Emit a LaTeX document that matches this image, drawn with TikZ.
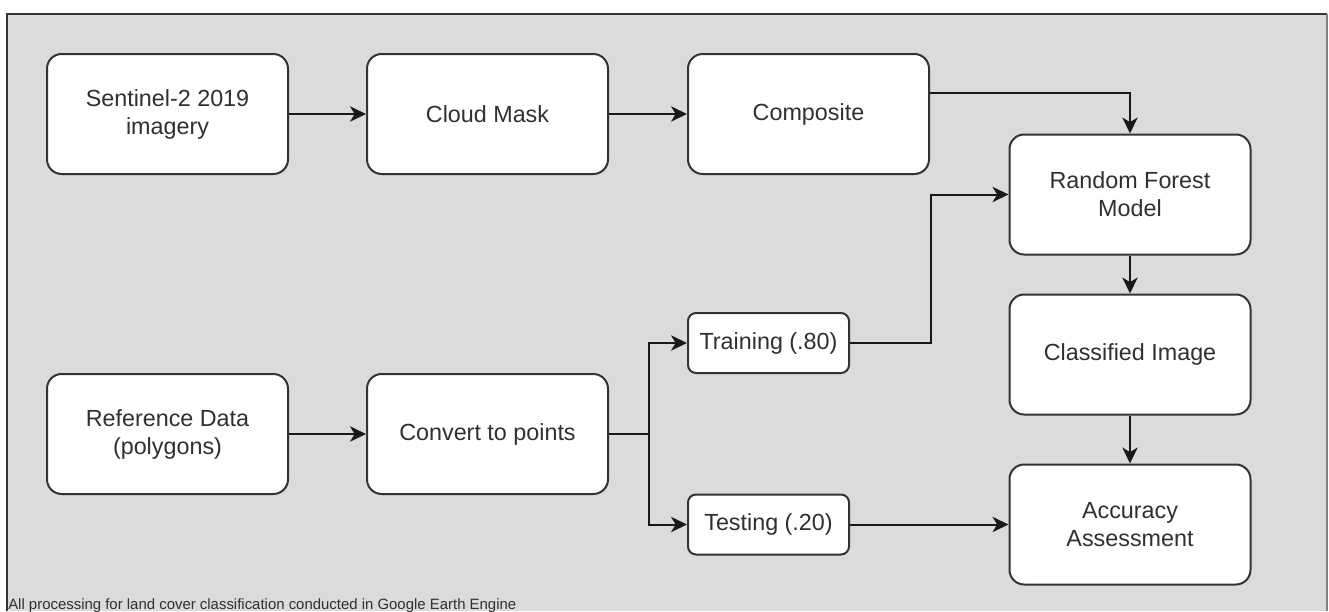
\documentclass[tikz,border=0pt]{standalone}
\usepackage{fontspec}
\setmainfont{Liberation Sans}
\usetikzlibrary{%
  arrows.meta,%
  positioning}

\definecolor{panelgray}{HTML}{DBDBDB}
\definecolor{edgegray}{HTML}{333333}
\definecolor{textgray}{HTML}{303030}

\begin{document}
\begin{tikzpicture}[x=0.75pt,y=-0.75pt,
    box/.style={draw=edgegray,line width=1.5pt,fill=white,rounded corners=11pt,
      minimum width=180.75pt,minimum height=90pt,inner sep=0pt,align=center,
      text=textgray,font=\fontsize{17.5}{21}\selectfont},
    smallbox/.style={box,rounded corners=6pt,minimum width=120.75pt,minimum height=45pt},
    flow/.style={draw=black!90,line width=1.5pt,
      -{Stealth[length=12pt,width=11.5pt,inset=3.5pt]}}]
      \useasboundingbox (0,0) rectangle (1329,611);
      % panel
      \fill[panelgray] (7,14) rectangle (1327,611);
      \draw[black!80,line width=1.6pt] (7,611) -- (7,14) -- (1327,14);
      \draw[gray,line width=0.8pt] (1327,14) -- (1327,611);
      % top row
      \node[box] (sent) at (167.5,114) {Sentinel-2 2019\\imagery};
      \node[box] (cloud) at (487.5,114) {Cloud Mask};
      \node[box] (comp) at (808.5,114) {Composite};
      % right column
      \node[box] (rf) at (1130,194.5) {Random Forest\\Model};
      \node[box] (cls) at (1130,354.5) {Classified Image};
      \node[box] (acc) at (1130,524.5) {Accuracy\\Assessment};
      % bottom row
      \node[box] (ref) at (167.5,434) {Reference Data\\(polygons)};
      \node[box] (conv) at (487.5,434) {Convert to points};
      \node[smallbox] (train) at (768.5,343) {Training (.80)};
      \node[smallbox] (test) at (768.5,524.5) {Testing (.20)};
      \coordinate (split) at ([xshift=30pt]conv.east);
      % connectors
      \draw[flow] (sent) -- (cloud);
      \draw[flow] (cloud) -- (comp);
      \draw[flow] ([yshift=15.75pt]comp.east) -| (rf.north);
      \draw[flow] (ref) -- (conv);
      \draw[line width=1.5pt,black!90] (conv.east) -- (split);
      \draw[flow] (split) |- (train.west);
      \draw[flow] (split) |- (test.west);
      \draw[flow] (train.east) -- ++(81,0) |- (rf.west);
      \draw[flow] (test) -- (acc);
      \draw[flow] (rf) -- (cls);
      \draw[flow] (cls) -- (acc);
      \node[anchor=base west,inner sep=0pt,text=textgray,font=\fontsize{11.2}{13}\selectfont] (note) at (8,609)
        {All processing for land cover classification conducted in Google Earth Engine};
\end{tikzpicture}
\end{document}
